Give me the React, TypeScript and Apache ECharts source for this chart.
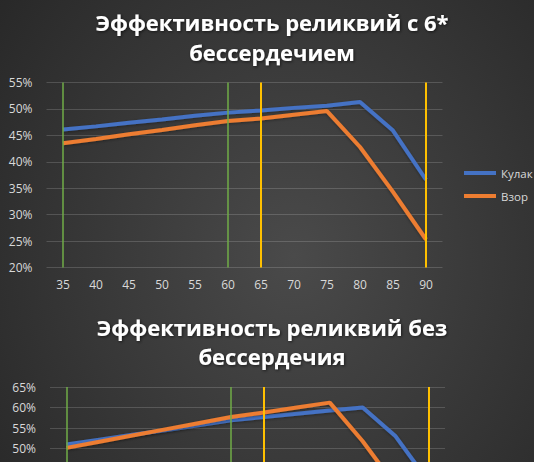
import { useEffect, useRef } from 'react';
import * as echarts from 'echarts';

// level of the relic (x axis)
const categories = ['35', '40', '45', '50', '55', '60', '65', '70', '75', '80', '85', '90'];

// top chart: with 6* heartlessness (percent)
const kulakWith = [46.1, 46.7, 47.4, 48.0, 48.7, 49.3, 49.7, 50.2, 50.6, 51.3, 45.9, 36.6];
const vzorWith = [43.5, 44.3, 45.2, 46.0, 46.9, 47.7, 48.2, 48.9, 49.6, 42.8, 34.3, 25.3];

// bottom chart: without heartlessness (percent), cut off by the picture's lower edge
const kulakWithout = [51.0, 52.2, 53.4, 54.5, 55.7, 56.9, 57.7, 58.5, 59.3, 60.0, 53.0, 42.0];
const vzorWithout = [50.2, 51.7, 53.2, 54.7, 56.2, 57.7, 58.8, 60.0, 61.2, 51.8, 41.0, 30.0];

// vertical marker lines
const greenMarks = ['35', '60'];
const yellowMarks = ['65', '90'];

const seriesNames = ['Кулак', 'Взор'];
const titles = ['Эффективность реликвий с 6*', 'бессердечием', 'Эффективность реликвий без', 'бессердечия'];

const BLUE = '#4472c4';
const ORANGE = '#ed7d31';
const LABEL = '#d9d9d9';
const FONT = '"Open Sans", "Noto Sans", sans-serif';

// only the part of the bottom chart above the picture's edge is visible
const VISIBLE_MIN_BOTTOM = 50;

function makeTitle(text: string, y: number) {
  return {
    type: 'text',
    x: 272,
    y,
    style: {
      text,
      fill: '#ffffff',
      font: `bold 22px ${FONT}`,
      align: 'center',
      verticalAlign: 'middle',
      textShadowColor: 'rgba(0,0,0,0.6)',
      textShadowBlur: 3,
      textShadowOffsetX: 1,
      textShadowOffsetY: 1,
    },
    silent: true,
  };
}

function markSeries(idx: number) {
  return {
    type: 'line',
    name: 'marks' + idx,
    xAxisIndex: idx,
    yAxisIndex: idx,
    data: [],
    z: 5,
    silent: true,
    markLine: {
      symbol: 'none',
      silent: true,
      label: { show: false },
      animation: false,
      data: [
        ...greenMarks.map(c => ({ xAxis: c, lineStyle: { color: '#70ad47', width: 1.5, type: 'solid' } })),
        ...yellowMarks.map(c => ({ xAxis: c, lineStyle: { color: '#ffc000', width: 2, type: 'solid' } })),
      ],
    },
  };
}

function lineSeries(name: string, data: number[], color: string, idx: number) {
  return {
    type: 'line',
    name,
    xAxisIndex: idx,
    yAxisIndex: idx,
    data,
    showSymbol: false,
    symbol: 'none',
    z: 3,
    lineStyle: {
      color,
      width: 4,
      shadowColor: 'rgba(0,0,0,0.35)',
      shadowBlur: 3,
      shadowOffsetY: 1,
    },
    itemStyle: { color },
  };
}

export default function App() {
  const chartRef = useRef<HTMLDivElement>(null);

  useEffect(() => {
    if (!chartRef.current) return;
    const chart = echarts.init(chartRef.current, null, { renderer: 'svg' });

    const xAxisBase = {
      type: 'category',
      data: categories,
      boundaryGap: true,
      axisLine: { show: false },
      axisTick: { show: false },
      axisLabel: { color: LABEL, fontSize: 12, fontFamily: FONT, margin: 11, interval: 0 },
      splitLine: { show: false },
    };
    const yAxisBase = {
      type: 'value',
      interval: 5,
      axisLine: { show: false },
      axisTick: { show: false },
      axisLabel: { color: LABEL, fontSize: 12, fontFamily: FONT, margin: 14, formatter: '{value}%' },
      splitLine: { lineStyle: { color: 'rgba(255,255,255,0.16)', width: 1 } },
    };

    chart.setOption({
      animation: false,
      backgroundColor: '#333333',
      graphic: [
        {
          type: 'rect',
          z: -10,
          silent: true,
          shape: { x: 0, y: 0, width: 534, height: 610 },
          style: {
            fill: new echarts.graphic.RadialGradient(0.55, 0.42, 0.7, [
              { offset: 0, color: '#4a4a4a' },
              { offset: 1, color: '#282828' },
            ]),
          },
        },
        makeTitle(titles[0], 22),
        makeTitle(titles[1], 52),
        makeTitle(titles[2], 327),
        makeTitle(titles[3], 356),
      ],
      legend: {
        data: seriesNames,
        orient: 'vertical',
        left: 459,
        top: 162,
        icon: 'rect',
        itemWidth: 32,
        itemHeight: 4,
        itemGap: 11,
        textStyle: { color: LABEL, fontSize: 11.5, fontFamily: FONT },
      },
      grid: [
        { left: 46.5, top: 82.5, width: 396, height: 185 },
        { left: 50, top: 387, width: 395, height: 185 },
      ],
      xAxis: [
        { ...xAxisBase, gridIndex: 0 },
        { ...xAxisBase, gridIndex: 1, axisLabel: { ...xAxisBase.axisLabel, show: false } },
      ],
      yAxis: [
        { ...yAxisBase, gridIndex: 0, min: 20, max: 55 },
        {
          ...yAxisBase,
          gridIndex: 1,
          min: 20,
          max: 65,
          axisLabel: {
            ...yAxisBase.axisLabel,
            formatter: (v: number) => (v >= VISIBLE_MIN_BOTTOM ? v + '%' : ''),
          },
        },
      ],
      series: [
        lineSeries(seriesNames[0], kulakWith, BLUE, 0),
        lineSeries(seriesNames[1], vzorWith, ORANGE, 0),
        lineSeries(seriesNames[0], kulakWithout, BLUE, 1),
        lineSeries(seriesNames[1], vzorWithout, ORANGE, 1),
        markSeries(0),
        markSeries(1),
      ],
    });

    return () => {
      chart.dispose();
    };
  }, []);

  return (
    <div style={{ position: 'fixed', left: 0, top: 0, width: '534px', height: '462px', overflow: 'hidden' }}>
      <div ref={chartRef} style={{ width: '534px', height: '610px' }} />
    </div>
  );
}
